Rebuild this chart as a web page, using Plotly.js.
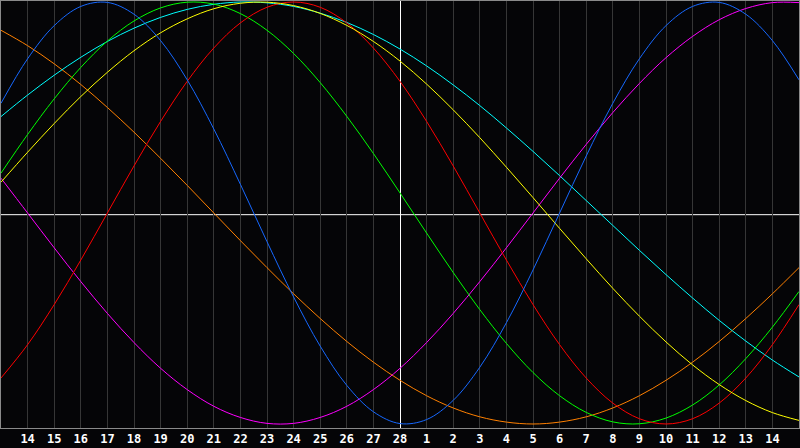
<!DOCTYPE html>
<html>
<head>
<meta charset="utf-8">
<script src="https://cdn.plot.ly/plotly-3.0.1.min.js"></script>
<style>
html,body{margin:0;padding:0;background:#050507;}
#chart{width:800px;height:448px;}
</style>
</head>
<body>
<div id="chart"></div>
<script>
// Day offsets relative to the highlighted day ("28")
const dayOffsets = [-15,-14,-13,-12,-11,-10,-9,-8,-7,-6,-5,-4,-3,-2,-1,0,1,2,3,4,5,6,7,8,9,10,11,12,13,14,15];
// Tick labels (day of month) for offsets -14 .. 14
const tickDays = [-14,-13,-12,-11,-10,-9,-8,-7,-6,-5,-4,-3,-2,-1,0,1,2,3,4,5,6,7,8,9,10,11,12,13,14];
const tickLabels = ["14","15","16","17","18","19","20","21","22","23","24","25","26","27","28","1","2","3","4","5","6","7","8","9","10","11","12","13","14"];

// Curve values read at each day line (-15 .. 15)
const blueValues = [0.520,0.731,0.888,0.979,0.998,0.942,0.817,0.631,0.398,0.136,-0.136,-0.398,-0.631,-0.817,-0.942,-0.998,-0.979,-0.888,-0.731,-0.520,-0.270,0.000,0.270,0.520,0.731,0.888,0.979,0.998,0.942,0.817,0.631];
const redValues = [-0.782,-0.624,-0.434,-0.223,0.000,0.223,0.434,0.624,0.782,0.901,0.975,1.000,0.975,0.901,0.782,0.624,0.434,0.223,0.000,-0.223,-0.434,-0.624,-0.782,-0.901,-0.975,-1.000,-0.975,-0.901,-0.782,-0.624,-0.434];
const greenValues = [0.189,0.372,0.541,0.690,0.815,0.910,0.972,0.999,0.990,0.945,0.866,0.756,0.618,0.458,0.282,0.095,-0.095,-0.282,-0.458,-0.618,-0.756,-0.866,-0.945,-0.990,-0.999,-0.972,-0.910,-0.815,-0.690,-0.541,-0.372];
const magentaValues = [0.165,0.000,-0.165,-0.325,-0.476,-0.614,-0.736,-0.837,-0.916,-0.969,-0.997,-0.997,-0.969,-0.916,-0.837,-0.736,-0.614,-0.476,-0.325,-0.165,0.000,0.165,0.325,0.476,0.614,0.736,0.837,0.916,0.969,0.997,0.997];
const yellowValues = [0.146,0.288,0.424,0.552,0.667,0.769,0.854,0.920,0.968,0.994,0.999,0.983,0.946,0.889,0.813,0.720,0.611,0.489,0.357,0.217,0.073,-0.073,-0.217,-0.357,-0.489,-0.611,-0.720,-0.813,-0.889,-0.946,-0.983];
const orangeValues = [0.866,0.793,0.707,0.609,0.500,0.383,0.259,0.131,0.000,-0.131,-0.259,-0.383,-0.500,-0.609,-0.707,-0.793,-0.866,-0.924,-0.966,-0.991,-1.000,-0.991,-0.966,-0.924,-0.866,-0.793,-0.707,-0.609,-0.500,-0.383,-0.259];
const cyanValues = [0.457,0.559,0.653,0.738,0.813,0.876,0.927,0.965,0.989,1.000,0.996,0.979,0.947,0.903,0.846,0.777,0.697,0.607,0.509,0.403,0.292,0.177,0.059,-0.059,-0.177,-0.292,-0.403,-0.509,-0.607,-0.697,-0.777];

const seriesList = [
  {values: orangeValues, color: '#ff8000'},
  {values: cyanValues, color: '#00ffff'},
  {values: magentaValues, color: '#ff00ff'},
  {values: greenValues, color: '#00ff00'},
  {values: redValues, color: '#ff0000'},
  {values: yellowValues, color: '#ffff00'},
  {values: blueValues, color: '#1668ff'}
];

const traces = seriesList.map(s => ({
  x: dayOffsets,
  y: s.values,
  type: 'scatter',
  mode: 'lines',
  line: {color: s.color, width: 1, shape: 'spline', smoothing: 1},
  hoverinfo: 'skip',
  showlegend: false
}));

const layout = {
  width: 800,
  height: 448,
  margin: {l: 1, r: 1, t: 1, b: 20, pad: 0},
  paper_bgcolor: '#050507',
  plot_bgcolor: '#050507',
  showlegend: false,
  xaxis: {
    range: [-15, 15],
    tickmode: 'array',
    tickvals: tickDays,
    ticktext: tickLabels,
    ticks: '',
    showgrid: true,
    gridcolor: '#363636',
    gridwidth: 1,
    zeroline: true,
    zerolinecolor: '#ffffff',
    zerolinewidth: 1,
    showline: true,
    linecolor: '#8a8a8a',
    linewidth: 1,
    mirror: true,
    tickfont: {family: 'DejaVu Sans Mono', size: 12, color: '#ffffff', weight: 700},
    fixedrange: true
  },
  yaxis: {
    range: [-1.019, 1.0047],
    showticklabels: false,
    ticks: '',
    showgrid: false,
    zeroline: false,
    showline: true,
    linecolor: '#8a8a8a',
    linewidth: 1,
    mirror: true,
    fixedrange: true
  },
  shapes: [{
    type: 'line', xref: 'paper', x0: 0, x1: 1, yref: 'y', y0: -0.008, y1: -0.008,
    line: {color: '#ffffff', width: 1}, layer: 'below'
  }]
};

Plotly.newPlot('chart', traces, layout, {staticPlot: true, displayModeBar: false});
</script>
</body>
</html>
